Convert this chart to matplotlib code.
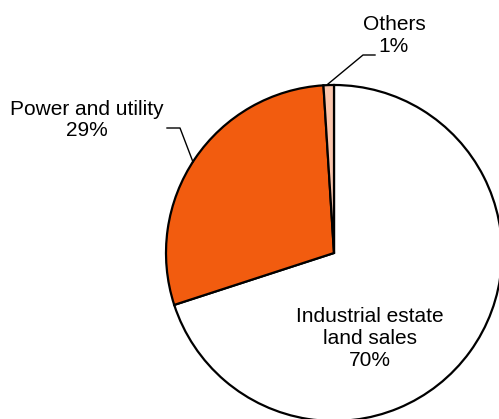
import matplotlib
matplotlib.use('Agg')
from matplotlib import pyplot as plt

segments = ['Industrial estate\nland sales', 'Power and utility', 'Others']
shares = [70, 29, 1]
colours = ['#FFFFFF', '#F25C0F', '#FBC6AD']

plt.rcParams['font.family'] = ['Liberation Sans', 'DejaVu Sans']

fig = plt.figure(figsize=(4.99, 4.19), dpi=100)
ax = fig.add_axes([0, 0, 1, 1])

# pie in pixel space, first slice starting at 12 o'clock going clockwise
cx, cy, r = 334, 166, 168
ax.pie(shares, colors=colours, startangle=90, counterclock=False,
       center=(cx, cy), radius=r, frame=True,
       wedgeprops=dict(edgecolor='black', linewidth=1.6))
ax.set_xlim(0, 499)
ax.set_ylim(0, 419)
ax.set_aspect('equal')
ax.axis('off')

fs = 15
ax.text(370, 419 - 339, f'{segments[0]}\n{shares[0]}%', ha='center', va='center',
        fontsize=fs, linespacing=1.2)
ax.text(87, 419 - 120, f'{segments[1]}\n{shares[1]}%', ha='center', va='center',
        fontsize=fs, linespacing=1.15)
ax.text(394, 419 - 36, f'{segments[2]}\n{shares[2]}%', ha='center', va='center',
        fontsize=fs, linespacing=1.2)

# leader lines
ax.plot([167, 180, 193], [419 - 128, 419 - 128, 419 - 162], color='black', lw=1.0)
ax.plot([328, 363, 375], [419 - 84, 419 - 55, 419 - 55], color='black', lw=1.0)

fig.savefig('out.png', dpi=100)
